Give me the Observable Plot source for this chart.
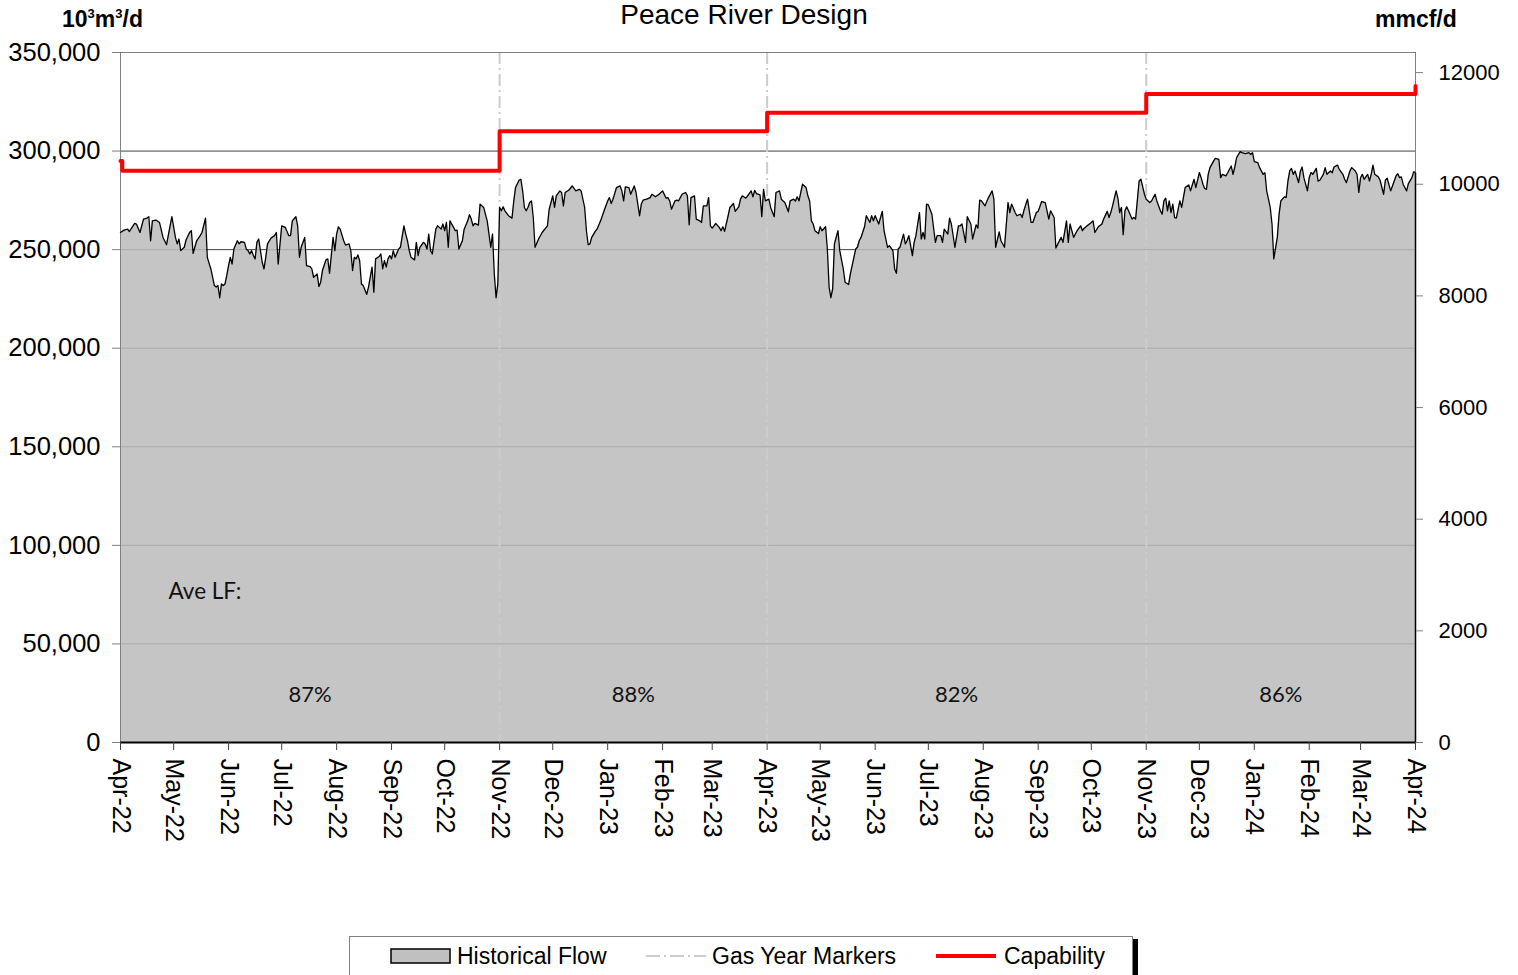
<!DOCTYPE html>
<html>
<head>
<meta charset="utf-8">
<script src="https://cdn.jsdelivr.net/npm/d3@7"></script>
<script src="https://cdn.jsdelivr.net/npm/@observablehq/plot@0.6"></script>
<style>
  html, body { margin: 0; padding: 0; background: #fff; overflow: hidden; }
  #wrap { position: relative; width: 1518px; height: 975px; font-family: 'Liberation Sans', Arial, sans-serif; }
  #chart { position: absolute; left: 0; top: 0; }
  .abs { position: absolute; white-space: nowrap; }
  #title { left: 0; width: 1488px; text-align: center; top: 1px; font-size: 28px; line-height: 28px; }
  .unit { font-weight: bold; font-size: 23px; line-height: 23px; }
  #legend { position: absolute; left: 349px; top: 936px; width: 782px; height: 44px; border: 1px solid #808080; box-shadow: 5px 3px 0 #000; background: #fff; font-size: 23px; }
  #legend span { position: absolute; top: 8px; line-height: 23px; }
  #legend svg { position: absolute; }
</style>
</head>
<body>
<div id="wrap">
  <div id="chart"></div>
  <div id="title" class="abs">Peace River Design</div>
  <div class="abs unit" style="left:62px;top:8px">10<sup style="font-size:13px;vertical-align:9px;line-height:0">3</sup>m<sup style="font-size:13px;vertical-align:9px;line-height:0">3</sup>/d</div>
  <div class="abs unit" style="left:1375px;top:8px">mmcf/d</div>
  <div id="legend"></div>
</div>
<script>
// ---------- data ----------
const startDate = Date.UTC(2022, 3, 1); // day 0 = 1 Apr 2022
const endDay = 731;                      // 1 Apr 2024

const flowDay = [0,2,4,5,8,9,11,13,15,16,17,18,20,22,24,26,29,31,32,33,34,36,37,39,40,41,43,45,46,48,49,51,53,54,55,56,57,58,59,60,61,62,63,64,66,67,68,70,71,72,73,74,75,76,77,78,80,81,82,83,85,87,88,89,91,93,95,96,97,99,100,101,102,104,105,107,108,109,111,112,113,114,116,117,118,119,120,121,122,123,124,
126,127,129,130,131,132,133,134,135,136,137,139,140,142,143,144,146,147,148,149,150,151,152,153,154,155,157,158,160,161,162,163,164,166,167,168,169,171,172,173,174,175,176,178,179,181,182,183,184,185,186,188,189,190,191,193,194,196,197,198,199,200,202,203,205,207,208,209,210,211,212,213,214,215,216,217,219,221,222,223,225,226,227,228,229,230,231,232,233,234,236,238,240,241,242,244,245,246,248,
249,250,251,253,255,257,259,260,262,263,264,265,266,268,269,271,273,275,276,277,278,280,282,283,284,285,287,288,290,291,292,293,294,295,297,299,300,302,304,306,308,309,310,311,313,314,315,317,319,320,321,322,324,325,327,328,329,331,332,333,334,335,336,338,339,340,341,343,344,346,347,349,350,351,353,354,356,357,358,359,361,362,363,364,366,367,369,370,372,
373,375,377,378,380,381,382,383,385,387,388,389,390,391,392,394,395,396,398,399,400,401,402,403,405,406,408,409,411,412,413,415,416,417,418,420,421,423,424,425,426,428,430,431,433,434,436,437,438,439,440,442,443,444,445,447,448,449,451,452,453,454,455,456,458,460,461,463,464,465,467,468,469,471,473,474,475,477,478,480,481,483,484,485,486,488,489,490,492,493,494,496,497,499,
501,502,503,505,506,508,509,510,512,514,515,517,518,520,522,524,525,527,528,530,531,532,534,535,536,538,539,540,542,543,544,545,548,549,550,552,554,555,557,558,559,560,562,563,564,565,566,567,568,569,571,572,573,575,576,578,579,581,582,584,585,587,588,589,590,591,592,593,594,595,596,598,599,600,601,603,604,606,607,609,610,611,612,613,614,615,617,618,620,
621,622,624,625,627,628,629,630,632,633,635,637,638,639,640,642,643,645,646,647,649,650,651,653,654,655,657,658,659,660,661,662,663,665,666,667,668,670,671,672,673,675,676,677,679,680,681,683,684,685,687,688,690,691,692,694,695,697,698,699,700,701,702,704,705,706,707,708,710,711,713,714,715,717,718,720,721,722,723,724,726,727,729,730,731];

const flowValue = [258700,259900,260400,259200,263300,263000,258700,265500,266000,266700,254500,264600,265000,263800,256200,252500,266700,256200,252900,255400,249500,251200,254900,258700,259600,248100,254500,257100,258700,266000,246100,240200,231800,231000,231800,225600,232600,231800,232600,236900,241900,246100,242700,250300,254500,252900,254000,253700,250300,249500,247800,249500,247000,245300,253700,255400,243600,240200,246100,252900,255900,257100,258700,242700,262100,261300,257100,257100,264600,266700,262100,246100,251200,256200,241900,241400,240200,236000,237700,231300,233500,239400,244800,245300,238000,247000,256200,249500,257900,261600,260400,
254500,252300,252900,249500,239400,246100,245300,247300,244400,232600,231800,227300,231000,241100,228400,245300,246500,247800,240200,244400,241100,245300,247000,245300,249500,246100,250300,251200,262100,257900,254500,249500,246100,244800,253700,247000,251200,253700,252900,250300,257900,249500,247800,260400,262100,260400,263000,259600,263800,251200,264600,261300,259600,259900,250300,254500,260400,264600,267700,265500,262100,263300,262400,273100,271400,264600,257900,251200,257900,237700,225600,232600,271400,269700,271700,269700,267200,266000,274700,281500,285200,285700,279800,271400,269700,271400,273900,274700,266300,251200,255400,258700,260900,262100,270500,277300,271400,277300,279800,
279000,272200,279000,280100,282300,279800,280600,279800,271400,259600,252500,252900,256200,259300,260400,264600,269700,274700,276400,273400,275600,281500,282300,279800,274700,281800,281500,278100,282300,279000,273100,267200,273100,275100,275600,276400,278100,276800,278100,279800,276100,276400,274700,270500,274700,275100,274700,278100,279000,277300,262600,276400,277300,265500,264600,263800,272200,272200,276400,262100,260900,262100,263300,261300,259600,261600,259300,267200,271400,273400,269400,271700,275600,277300,276100,277300,279800,276800,280100,278400,277800,266700,280600,274700,275600,271400,266700,279000,279800,
275600,273900,269200,274700,275600,274700,276800,274700,283200,281500,277300,274700,264600,263000,259600,258200,261600,259600,261600,250300,231000,225600,230100,252900,259600,249500,240200,233500,232300,237700,241900,250300,251200,254500,256200,261600,267200,263800,267200,264600,267200,263000,269400,259600,251200,252000,249500,240200,238000,250300,251200,257900,252900,254500,257100,247000,253700,257100,268800,255400,258700,255400,273100,272700,268000,253700,257100,257100,253700,260400,257900,266000,263000,251200,262100,262100,263000,253700,266700,263000,255400,262600,260900,275100,274700,272200,274400,276400,279800,275600,251200,259000,254500,251200,
273900,268800,273100,268800,267200,268000,266300,270000,275600,263800,263800,268800,269400,274400,273900,265500,269700,266300,250800,254500,256200,253700,264600,253700,263000,256200,257900,259600,262100,259600,260900,261600,263800,264600,258700,261600,263000,265500,269400,266300,268800,272200,279800,276100,268800,271400,257600,269700,271700,269700,265500,266300,265500,284800,285700,278100,275600,273900,274700,278100,274700,269700,268000,274700,276100,269700,274700,268800,273100,266300,266000,274700,271400,276400,281500,282800,279800,285700,281500,289100,286500,283200,281000,280600,288200,291600,294900,296300,295800,
286500,288200,287400,289000,292400,288200,291900,296600,299700,299200,298700,299200,298300,299200,294600,294100,291600,288200,289000,279800,271400,263000,245300,256200,268000,274700,276800,276400,284800,289900,291200,288200,289900,284000,289600,291900,286500,279800,286500,289100,288200,291200,284800,285200,288200,291600,288200,289900,289000,291900,292900,290700,288200,285700,284000,289900,291600,289900,288200,279000,286500,288200,285700,288200,284800,288200,292900,288200,286900,285200,278100,285200,286200,279800,282300,287400,288500,286500,286900,283200,279800,283500,286500,289600,288700];

const capDay = [0, 1, 214, 365, 579, 731];
const capValue = [295000, 290000, 310000, 319500, 329000, 333000];

const gasYearDay = [0, 214, 365, 579, 731];        // gas-year boundaries
const loadFactor = ["87%", "88%", "82%", "86%"];    // Ave LF per period

const leftTicks = [0, 50000, 100000, 150000, 200000, 250000, 300000, 350000];
const rightTicks = [0, 2000, 4000, 6000, 8000, 10000, 12000];
const M3_PER_MMCF = 28.317; // 10^3 m3 per mmcf

// ---------- build tables ----------
const toDate = d => new Date(startDate + d * 864e5);
const flow = flowDay.map((d, i) => ({date: toDate(d), value: flowValue[i]}));
const cap = capDay.map((d, i) => ({date: toDate(d), value: capValue[i]}));
const markers = gasYearDay.slice(1, -1).map(toDate);
const lf = loadFactor.map((t, i) => ({date: toDate((gasYearDay[i] + gasYearDay[i + 1]) / 2), text: t}));
const months = d3.utcMonths(toDate(0), toDate(endDay + 1));
const last = flow[flow.length - 1];

const chart = Plot.plot({
  width: 1518, height: 860,
  marginLeft: 120, marginRight: 103, marginTop: 52, marginBottom: 118,
  style: {fontFamily: "'Liberation Sans', Arial, sans-serif", background: "white", color: "black"},
  x: {type: "utc", domain: [toDate(0), toDate(endDay)]},
  y: {domain: [0, 350000], label: null},
  marks: [
    Plot.ruleY(leftTicks.slice(1, -1), {stroke: "#404040", strokeWidth: 1}),
    Plot.areaY(flow, {x: "date", y: "value", fill: "#bbbbbb", fillOpacity: 0.86}),
    Plot.ruleX(markers, {stroke: "#cccccc", strokeWidth: 2, strokeDasharray: "12,4,2,4"}),
    Plot.frame({stroke: "#808080"}),
    Plot.lineY(flow, {x: "date", y: "value", stroke: "black", strokeWidth: 1.3}),
    Plot.ruleX([last], {x: "date", y1: 0, y2: "value", stroke: "black", strokeWidth: 1.5}),
    Plot.line(cap, {x: "date", y: "value", stroke: "#ff0000", strokeWidth: 4, curve: "step-after"}),
    Plot.ruleY([0], {stroke: "black", strokeWidth: 2}),
    Plot.axisX(months, {tickFormat: d3.utcFormat("%b-%y"), tickRotate: 90, tickSize: 8, tickPadding: 8,
      fontSize: 25, stroke: "#404040", fill: "black", label: null}),
    Plot.axisY(leftTicks, {anchor: "left", tickSize: 8, tickPadding: 12, fontSize: 25.5,
      stroke: "#808080", fill: "black", tickFormat: d3.format(","), label: null}),
    Plot.axisY(rightTicks.map(d => d * M3_PER_MMCF), {anchor: "right", tickSize: 7, tickPadding: 16, fontSize: 22,
      stroke: "#808080", fill: "black", tickFormat: d => String(Math.round(d / M3_PER_MMCF)), label: null}),
    Plot.text(["Ave LF:"], {frameAnchor: "bottom-left", dx: 48, dy: -144, textAnchor: "start",
      fontSize: 22.5, fontFamily: "Lato, 'Open Sans', sans-serif", fill: "#111"}),
    Plot.text(lf, {x: "date", text: "text", frameAnchor: "bottom", dy: -41,
      fontSize: 22, fontFamily: "Lato, 'Open Sans', sans-serif", fill: "#111"})
  ]
});
document.getElementById("chart").appendChild(chart);

// ---------- legend ----------
const legend = document.getElementById("legend");
legend.innerHTML = `
  <svg style="left:40px;top:11px" width="62" height="17"><rect x="1" y="1" width="59" height="14" fill="#c0c0c0" stroke="#000" stroke-width="1.5"/></svg>
  <span style="left:107px">Historical Flow</span>
  <svg style="left:296px;top:16px" width="60" height="6"><line x1="0" y1="3" x2="60" y2="3" stroke="#cccccc" stroke-width="2" stroke-dasharray="14,4,2,4"/></svg>
  <span style="left:362px">Gas Year Markers</span>
  <svg style="left:586px;top:15px" width="60" height="8"><line x1="0" y1="4" x2="60" y2="4" stroke="#ff0000" stroke-width="4"/></svg>
  <span style="left:654px">Capability</span>`;
</script>
</body>
</html>
